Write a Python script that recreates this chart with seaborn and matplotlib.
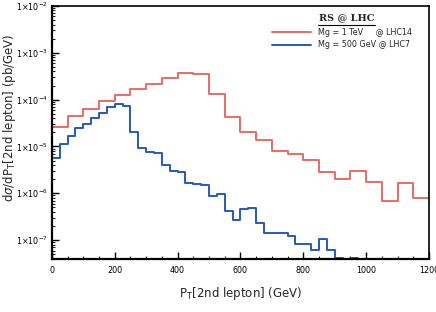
import numpy as np
import pandas as pd
import seaborn as sns
import matplotlib.pyplot as plt
from matplotlib.ticker import FixedLocator, LogLocator, NullFormatter, MultipleLocator

# =====================
# Data
# =====================

# Mg = 1 TeV @ LHC14, 50 GeV bins
red_edges = list(range(0, 1201, 50))
red_vals = [2.6e-5, 4.5e-5, 6.2e-5, 9.3e-5, 1.27e-4, 1.66e-4, 2.15e-4, 2.9e-4,
            3.7e-4, 3.6e-4, 1.34e-4, 4.2e-5, 2.0e-5, 1.37e-5, 8.1e-6, 6.9e-6,
            5.1e-6, 2.9e-6, 2.0e-6, 3.0e-6, 1.76e-6, 7.0e-7, 1.62e-6, 8.1e-7]

# Mg = 500 GeV @ LHC7, 25 GeV bins
blue_edges = list(range(0, 1001, 25))
blue_vals = [5.6e-6, 1.12e-5, 1.67e-5, 2.43e-5, 3.05e-5, 4.05e-5, 5.25e-5, 6.8e-5,
             8.0e-5, 7.4e-5, 2.03e-5, 9.4e-6, 7.5e-6, 7.3e-6, 4.1e-6, 2.98e-6,
             2.84e-6, 1.68e-6, 1.6e-6, 1.5e-6, 8.7e-7, 9.5e-7, 4.2e-7, 2.67e-7,
             4.7e-7, 4.9e-7, 2.34e-7, 1.44e-7, 1.44e-7, 1.44e-7, 1.24e-7, 8.4e-8,
             8.4e-8, 6.2e-8, 1.05e-7, 6.2e-8, 4.1e-8, 2e-8, 4.2e-8, 2e-8]

red_label = "Mg = 1 TeV     @ LHC14"
blue_label = "Mg = 500 GeV @ LHC7"
legend_title = "RS @ LHC"

red_col = "#ec6a64"
blue_col = "#2558c4"

# steps-post needs the closing edge repeated
red_df = pd.DataFrame({"pt": red_edges, "xsec": red_vals + red_vals[-1:]})
blue_df = pd.DataFrame({"pt": blue_edges, "xsec": blue_vals + blue_vals[-1:]})

# =====================
# Plot
# =====================
sns.set_style("white")
plt.rcParams["font.family"] = ["DejaVu Sans"]

fig = plt.figure(figsize=(4.36, 3.12), dpi=100)
ax = fig.add_axes([0.119, 0.169, 0.865, 0.812])

sns.lineplot(data=red_df, x="pt", y="xsec", drawstyle="steps-post",
             color=red_col, lw=1.4, estimator=None, sort=False, ax=ax)
sns.lineplot(data=blue_df, x="pt", y="xsec", drawstyle="steps-post",
             color=blue_col, lw=1.4, estimator=None, sort=False, ax=ax)

ax.set_yscale("log")
ax.set_xlim(0, 1200)
ax.set_ylim(3.9e-8, 1e-2)

# axis frame
for s in ax.spines.values():
    s.set_color("black")
    s.set_linewidth(1.2)
ax.spines["left"].set_linewidth(1.6)
ax.spines["bottom"].set_linewidth(1.6)

# ticks
ax.xaxis.set_major_locator(MultipleLocator(200))
ax.xaxis.set_minor_locator(MultipleLocator(50))
ax.yaxis.set_major_locator(FixedLocator([1e-7, 1e-6, 1e-5, 1e-4, 1e-3, 1e-2]))
ax.yaxis.set_minor_locator(LogLocator(base=10, subs=np.arange(2, 10)))
ax.yaxis.set_minor_formatter(NullFormatter())
ax.set_yticklabels([r"1$\times$10$^{%d}$" % e for e in range(-7, -1)])
ax.tick_params(axis="both", which="major", direction="in", length=5, width=1,
               labelsize=5.8, colors="black", bottom=True, left=True, top=False, right=False)
ax.tick_params(axis="both", which="minor", direction="in", length=2.5, width=0.8,
               bottom=True, left=True, top=False, right=False)
ax.tick_params(axis="x", which="major", pad=5)
ax.tick_params(axis="y", which="major", pad=3)

ax.set_xlabel(r"P$_\mathregular{T}$[2nd lepton] (GeV)", fontsize=8.5)
ax.set_ylabel(r"d$\sigma$/dP$_\mathregular{T}$[2nd lepton] (pb/GeV)", fontsize=8.5)
ax.xaxis.set_label_coords(0.5, -0.1)
ax.yaxis.set_label_coords(-0.09, 0.56)

# legend, drawn by hand to copy the layout
ax.text(0.781, 0.953, legend_title, transform=ax.transAxes, ha="center", va="center",
        fontsize=7, fontweight="bold", family="DejaVu Serif")
ax.plot([0.706, 0.856], [0.925, 0.925], transform=ax.transAxes, color="black", lw=0.8)
ax.plot([0.584, 0.687], [0.897, 0.897], transform=ax.transAxes, color=red_col, lw=1.4)
ax.plot([0.584, 0.687], [0.846, 0.846], transform=ax.transAxes, color=blue_col, lw=1.4)
ax.text(0.706, 0.897, red_label, transform=ax.transAxes, va="center", fontsize=5.8)
ax.text(0.706, 0.846, blue_label, transform=ax.transAxes, va="center", fontsize=5.8)

fig.savefig("out.png", dpi=100)
